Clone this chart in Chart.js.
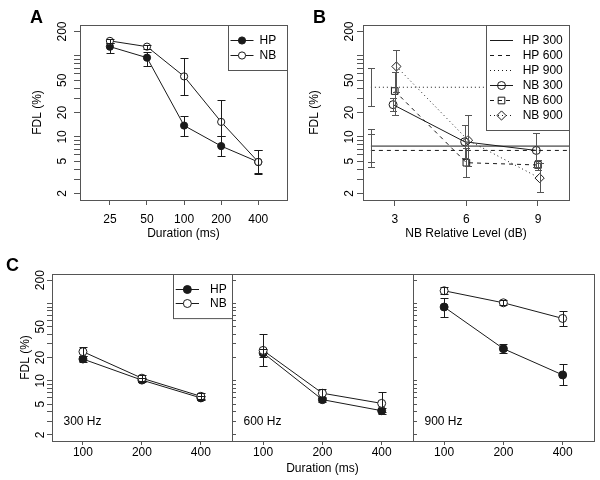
<!DOCTYPE html>
<html>
<head>
<meta charset="utf-8">
<title>FDL</title>
<script src="https://cdn.jsdelivr.net/npm/chart.js@4.4.1/dist/chart.umd.min.js"></script>
<style>
  body { margin: 0; background: #fff; }
  #fig { position: relative; width: 600px; height: 480px; overflow: hidden; }
  #fig canvas { position: absolute; left: 0; top: 0; }
  .tag { position: absolute; font: bold 18px "Liberation Sans", Arial, sans-serif; line-height: 18px; color: #000; }
</style>
</head>
<body>
<div id="fig">
  <canvas id="cA" width="600" height="480"></canvas>
  <canvas id="cB" width="600" height="480"></canvas>
  <canvas id="c300" width="600" height="480"></canvas>
  <canvas id="c600" width="600" height="480"></canvas>
  <canvas id="c900" width="600" height="480"></canvas>
  <div class="tag" style="left:30px;top:8px">A</div>
  <div class="tag" style="left:313px;top:8px">B</div>
  <div class="tag" style="left:6px;top:256px">C</div>
</div>
<script>
// ---- panel A: FDL by duration ----
const durA = [25, 50, 100, 200, 400];
const hpA = [130, 95, 13.8, 7.7, 4.9];
const hpALo = [108, 76, 10.4, 5.8, 3.5];
const hpAHi = [143, 112, 18.1, 10.4, 6.9];
const nbA = [153, 130, 55.8, 15.3, 4.9];
const nbALo = [143, 122, 32.9, 10.4, 3.6];
const nbAHi = [160, 138, 95, 28.8, 6.9];

// ---- panel B: FDL by NB relative level ----
const levelsB = [3, 6, 9];
const hpLevelB = [7.7, 6.8, 41];      // HP 300, 600, 900 (flat reference)
const hpLoB = [4.3, 4.9, 24];
const hpHiB = [12.4, 10.8, 70.6];
const nb300B = [25, 8.7, 6.8];
const nb300Lo = [21, 5.5, 4.2];
const nb300Hi = [30, 13.9, 11.1];
const nb600B = [36.8, 4.8, 4.5];
const nb600Lo = [18.4, 3.2, 3.9];
const nb600Hi = [63, 7.2, 5.2];
const nb900B = [74, 9.1, 3.1];
const nb900Lo = [36, 4.4, 2.1];
const nb900Hi = [119, 18.8, 4.8];

// ---- panel C: FDL by duration, per frequency ----
const durC = [100, 200, 400];
const hp300 = [19.1, 10.2, 6.0], hp300Lo = [17.5, 9.6, 5.6], hp300Hi = [20.8, 10.9, 6.4];
const nb300 = [23.8, 10.8, 6.3], nb300CLo = [20.8, 10.0, 5.8], nb300CHi = [27.3, 11.7, 6.9];
const hp600 = [22.9, 5.7, 4.1], hp600Lo = [20, 5.3, 3.7], hp600Hi = [26, 6.1, 4.5];
const nb600 = [24.7, 6.9, 5.1], nb600CLo = [15.4, 6.0, 3.9], nb600CHi = [40, 7.9, 7.2];
const hp900 = [90, 26, 11.9], hp900Lo = [67, 23, 8.9], hp900Hi = [119, 29.5, 16.5];
const nb900 = [146, 102, 64], nb900CLo = [133, 95, 51], nb900CHi = [164, 110, 80];

// ---- log y axis ----
const logTicks = [2, 3, 4, 5, 6, 7, 8, 9, 10, 20, 30, 40, 50, 60, 70, 80, 90, 100, 200];
const logLabels = [2, 5, 10, 20, 50, 200];
const yMin = 1.663, yMax = 240.5;

const INK = '#1a1a1a';
const FRAME = '#555';
const FONT = { family: '"Liberation Sans", Arial, sans-serif', size: 12 };
const FONT_STR = '12px "Liberation Sans", Arial, sans-serif';

function drawLegend(chart, L) {
  const { ctx, chartArea: a } = chart;
  const items = chart.data.datasets;
  const h = (items.length + 1) * L.row;
  const x0 = a.right - L.width, y0 = a.top;
  ctx.fillStyle = '#fff';
  ctx.fillRect(x0, y0, L.width, h);
  ctx.strokeStyle = FRAME;
  ctx.lineWidth = 1;
  ctx.strokeRect(x0 + 0.5, y0 + 0.5, L.width, h);
  items.forEach((ds, i) => {
    const cy = Math.round(y0 + L.row * (i + 1)) + 0.5;
    ctx.save();
    ctx.strokeStyle = ds.borderColor;
    ctx.lineWidth = 1;
    ctx.setLineDash(ds.borderDash || []);
    ctx.beginPath();
    ctx.moveTo(x0 + L.from, cy);
    ctx.lineTo(x0 + L.to, cy);
    ctx.stroke();
    ctx.setLineDash([]);
    if (ds.pointRadius > 0) {
      ctx.fillStyle = ds.pointBackgroundColor;
      ctx.strokeStyle = ds.pointBorderColor;
      ctx.lineWidth = ds.pointBorderWidth;
      Chart.helpers.drawPoint(ctx, { pointStyle: ds.pointStyle, radius: ds.pointRadius,
        borderWidth: ds.pointBorderWidth, rotation: 0 }, x0 + (L.from + L.to) / 2, cy);
    }
    ctx.fillStyle = '#000';
    ctx.font = FONT_STR;
    ctx.textAlign = 'left';
    ctx.textBaseline = 'middle';
    ctx.fillText(ds.label, x0 + L.text, cy);
    ctx.restore();
  });
}

// error bars, frame, legend and corner note
const decor = {
  id: 'decor',
  afterDatasetsDraw(chart, args, opts) {
    const { ctx } = chart;
    const y = chart.scales.y;
    const cap = opts.cap || 4;
    chart.data.datasets.forEach((ds, i) => {
      if (!ds.errLo) return;
      const pts = chart.getDatasetMeta(i).data;
      ctx.save();
      ctx.strokeStyle = ds.errColor || INK;
      ctx.lineWidth = 1;
      ctx.beginPath();
      ds.errLo.forEach((lo, j) => {
        if (lo == null) return;
        const px = Math.round(pts[j].x) + 0.5;
        const y1 = Math.round(y.getPixelForValue(lo)) + 0.5;
        const y2 = Math.round(y.getPixelForValue(ds.errHi[j])) + 0.5;
        ctx.moveTo(px, y1); ctx.lineTo(px, y2);
        ctx.moveTo(px - cap, y1); ctx.lineTo(px + cap, y1);
        ctx.moveTo(px - cap, y2); ctx.lineTo(px + cap, y2);
      });
      ctx.stroke();
      ctx.restore();
    });
  },
  afterDraw(chart, args, opts) {
    const { ctx, chartArea: a } = chart;
    ctx.save();
    ctx.strokeStyle = FRAME;
    ctx.lineWidth = 1;
    ctx.strokeRect(a.left + 0.5, a.top + 0.5, a.right - a.left, a.bottom - a.top);
    if (opts.note) {
      ctx.fillStyle = '#000';
      ctx.font = FONT_STR;
      ctx.textAlign = 'left';
      ctx.textBaseline = 'middle';
      ctx.fillText(opts.note, a.left + 11.5, a.bottom - 19);
    }
    if (opts.legend) drawLegend(chart, opts.legend);
    ctx.restore();
  }
};

function xAxis(o) {
  return {
    type: o.type, min: o.min, max: o.max, bounds: 'data',
    afterBuildTicks: s => { s.ticks = o.ticks.map(v => ({ value: v })); },
    afterFit: s => { s.height = o.height; },
    border: { display: false },
    grid: { drawOnChartArea: false, tickLength: o.tick, color: FRAME },
    ticks: { color: '#000', font: FONT, padding: o.pad, autoSkip: false, maxRotation: 0,
      callback: v => String(v) },
    title: { display: !!o.title, text: o.title || '', padding: 0, color: '#000', font: FONT }
  };
}

function yAxis(o) {
  return {
    type: 'logarithmic', min: yMin, max: yMax, bounds: 'data',
    afterBuildTicks: s => { s.ticks = logTicks.map(v => ({ value: v })); },
    afterFit: s => { s.width = o.width; },
    border: { display: false },
    grid: { drawOnChartArea: false, tickLength: o.tick, color: FRAME },
    ticks: { display: o.labels, color: '#000', font: FONT, padding: o.pad, autoSkip: false,
      minRotation: 90, maxRotation: 90, crossAlign: 'center',
      callback: v => logLabels.includes(v) ? String(v) : '' },
    title: { display: !!o.title, text: o.title || '', padding: 0, color: '#000', font: FONT }
  };
}

function series(label, xs, ys, lo, hi, style) {
  return Object.assign({
    label: label,
    data: xs.map((x, i) => ({ x: x, y: ys[i] })),
    errLo: lo, errHi: hi,
    borderColor: INK, borderWidth: 1, tension: 0, fill: false,
    pointBorderColor: INK, pointBorderWidth: 1, pointHoverRadius: 0
  }, style);
}

function panel(id, pad, x, y, datasets, decorOpts) {
  return new Chart(document.getElementById(id), {
    type: 'line',
    data: { datasets: datasets },
    options: {
      responsive: false, animation: false, events: [],
      layout: { padding: pad },
      plugins: { legend: { display: false }, tooltip: { enabled: false }, decor: decorOpts },
      scales: { x: x, y: y }
    },
    plugins: [decor]
  });
}

const filled = { pointStyle: 'circle', pointBackgroundColor: INK };
const open = { pointStyle: 'circle', pointBackgroundColor: '#fff' };

// ---- A ----
panel('cA', { left: 30, top: 25, right: 313, bottom: 239 },
  xAxis({ type: 'logarithmic', min: 14.3, max: 684, ticks: durA, height: 41, tick: 5, pad: 7, title: 'Duration (ms)' }),
  yAxis({ width: 50, tick: 6, pad: 1, labels: true, title: 'FDL (%)' }),
  [
    series('HP', durA, hpA, hpALo, hpAHi, Object.assign({ pointRadius: 3.6, order: 1 }, filled)),
    series('NB', durA, nbA, nbALo, nbAHi, Object.assign({ pointRadius: 3.6, order: 0 }, open))
  ],
  { cap: 4, legend: { width: 59, row: 15, from: 2.5, to: 25.5, text: 31.5 } });

// ---- B ----
const xMaxB = 10.3;
const dodge = [-0.07, 0, 0.07];
const hpNames = ['HP 300', 'HP 600', 'HP 900'];
const dashes = [[], [4, 4], [1, 3]];
const hpSets = hpNames.map((name, k) => series(name, [2, xMaxB], [hpLevelB[k], hpLevelB[k]],
  [hpLoB[k], null], [hpHiB[k], null],
  { borderDash: dashes[k], pointRadius: 0, errColor: '#555' }));
const nbSpecs = [
  ['NB 300', nb300B, nb300Lo, nb300Hi, 'circle', 4],
  ['NB 600', nb600B, nb600Lo, nb600Hi, 'rect', 4.7],
  ['NB 900', nb900B, nb900Lo, nb900Hi, 'rectRot', 4.6]
];
const nbSets = nbSpecs.map((s, k) => series(s[0], levelsB.map(l => l + dodge[k]), s[1], s[2], s[3],
  { borderDash: dashes[k], pointStyle: s[4], pointRadius: s[5], pointBackgroundColor: 'rgba(0,0,0,0)',
    errColor: '#555' }));
panel('cB', { left: 307, top: 25, right: 31, bottom: 239 },
  xAxis({ type: 'linear', min: 1.67, max: xMaxB, ticks: levelsB, height: 41, tick: 6, pad: 6, title: 'NB Relative Level (dB)' }),
  yAxis({ width: 56, tick: 6, pad: -2.5, labels: true, title: 'FDL (%)' }),
  hpSets.concat(nbSets),
  { cap: 3.5, legend: { width: 83, row: 15, from: 4, to: 27, text: 36.7 } });

// ---- C ----
function pair(hp, hpLo, hpHi, nb, nbLo, nbHi) {
  return [
    series('HP', durC, hp, hpLo, hpHi, Object.assign({ pointRadius: 4, order: 1 }, filled)),
    series('NB', durC, nb, nbLo, nbHi, Object.assign({ pointRadius: 4, order: 0 }, open))
  ];
}
const xC = title => xAxis({ type: 'logarithmic', min: 69.5, max: 577, ticks: durC, height: 35, tick: 4, pad: 0, title: title });

panel('c300', { left: 18, top: 274, right: 368, bottom: 4 },
  xC(''), yAxis({ width: 34, tick: 5, pad: -4, labels: true, title: 'FDL (%)' }),
  pair(hp300, hp300Lo, hp300Hi, nb300, nb300CLo, nb300CHi),
  { cap: 4, note: '300 Hz', legend: { width: 59, row: 14.7, from: 2.7, to: 26, text: 37 } });

panel('c600', { left: 200, top: 274, right: 187, bottom: 4 },
  xC('Duration (ms)'), yAxis({ width: 32, tick: -4, pad: 0, labels: false }),
  pair(hp600, hp600Lo, hp600Hi, nb600, nb600CLo, nb600CHi),
  { cap: 4, note: '600 Hz' });

panel('c900', { left: 380, top: 274, right: 6, bottom: 4 },
  xC(''), yAxis({ width: 33, tick: -4, pad: 0, labels: false }),
  pair(hp900, hp900Lo, hp900Hi, nb900, nb900CLo, nb900CHi),
  { cap: 4, note: '900 Hz' });
</script>
</body>
</html>
